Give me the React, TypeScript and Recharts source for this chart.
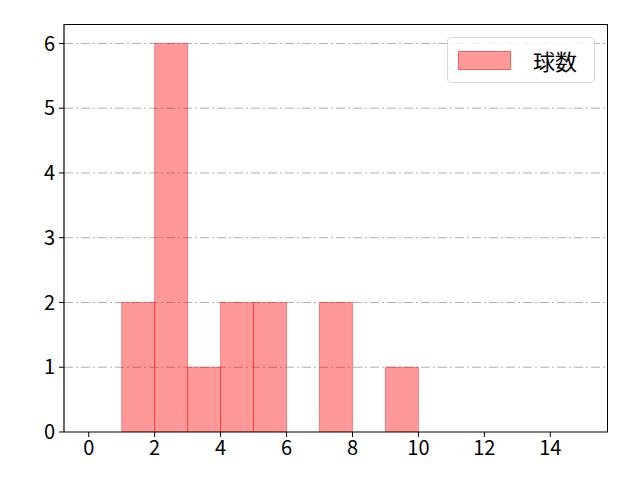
import React from 'react';
import { ComposedChart, Bar, XAxis, YAxis, CartesianGrid } from 'recharts';

// histogram bins: [1,2) ... [9,10)
const binCenters = [0.5, 1.5, 2.5, 3.5, 4.5, 5.5, 6.5, 7.5, 8.5, 9.5, 10.5, 11.5, 12.5, 13.5, 14.5];
const counts = [0, 2, 6, 1, 2, 2, 0, 2, 0, 1, 0, 0, 0, 0, 0];
const xTicks = [0, 2, 4, 6, 8, 10, 12, 14];
const yTicks = [0, 1, 2, 3, 4, 5, 6];
const seriesName = '球数';

const FONT = '"Noto Sans CJK JP", "DejaVu Sans", sans-serif';
const W = 640;
const H = 480;
const M = { top: 24, right: 32, bottom: 0, left: 0 };
const X_H = 48;
const Y_W = 64;
const X_DOMAIN: [number, number] = [-0.75, 15.75];
const unitPx = (W - M.left - M.right - Y_W) / (X_DOMAIN[1] - X_DOMAIN[0]);

const data = binCenters.map((x, i) => ({ x, count: counts[i] }));

const LegendBox = () => (
  <div
    style={{
      position: 'absolute',
      left: 447,
      top: 37,
      width: 148,
      height: 46,
      boxSizing: 'border-box',
      border: '1px solid #d6d6d6',
      borderRadius: 4,
      background: 'rgba(255,255,255,0.8)',
      display: 'flex',
      alignItems: 'center',
      fontFamily: FONT,
      fontSize: 22,
      color: '#000',
    }}
  >
    <div
      style={{
        marginLeft: 10,
        width: 53,
        height: 19,
        boxSizing: 'border-box',
        background: 'rgba(255,0,0,0.4)',
        border: '1px solid rgba(255,0,0,0.4)',
      }}
    />
    <span style={{ marginLeft: 22 }}>{seriesName}</span>
  </div>
);

export default function App() {
  document.body.style.margin = '0';
  const tickStyle = { fontSize: 20, fill: '#000', fontFamily: FONT };
  return (
    <div style={{ width: W, height: H, background: '#fff', position: 'relative' }}>
      <ComposedChart
        width={W}
        height={H}
        data={data}
        margin={M}
        barCategoryGap={0}
        barGap={0}
      >
        <XAxis
          dataKey="x"
          type="number"
          domain={X_DOMAIN}
          ticks={xTicks}
          allowDataOverflow
          axisLine={{ stroke: '#000', strokeWidth: 1.2 }}
          tickLine={{ stroke: '#000' }}
          tickSize={5}
          tick={tickStyle}
          fontSize={20}
          tickMargin={4}
          height={X_H}
        />
        <YAxis
          type="number"
          domain={[0, 6.3]}
          ticks={yTicks}
          allowDataOverflow
          width={Y_W}
          axisLine={{ stroke: '#000', strokeWidth: 1.2 }}
          tickLine={{ stroke: '#000' }}
          tickSize={5}
          tick={tickStyle}
          fontSize={20}
          tickMargin={4}
        />
        <Bar
          dataKey="count"
          name={seriesName}
          barSize={unitPx * 0.999}
          fill="rgba(255,0,0,0.4)"
          stroke="rgba(255,0,0,0.4)"
          strokeWidth={1}
          isAnimationActive={false}
        />
        <CartesianGrid
          vertical={false}
          stroke="#b0b0b0"
          strokeDasharray="9 3 2 3"
          horizontalValues={yTicks.slice(1)}
        />
      </ComposedChart>
      {/* top and right spines */}
      <div
        style={{
          position: 'absolute',
          left: Y_W,
          top: M.top,
          width: W - M.right - Y_W,
          height: H - M.top - X_H,
          boxSizing: 'border-box',
          borderTop: '1.2px solid #000',
          borderRight: '1.2px solid #000',
          pointerEvents: 'none',
        }}
      />
      <LegendBox />
    </div>
  );
}
